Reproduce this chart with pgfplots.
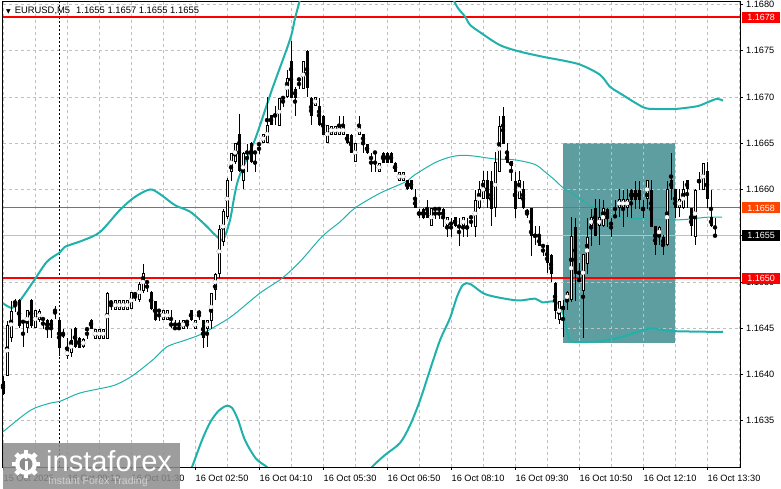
\documentclass[border=0pt]{standalone}
\usepackage{fontspec}
\setmainfont{Liberation Sans}
\newfontfamily\dejavu{DejaVu Sans}
\usepackage{pgfplots}
\pgfplotsset{compat=1.18}
\usepackage{pgfplotstable}

\definecolor{bb}{RGB}{32,178,170}
\definecolor{rectc}{RGB}{95,158,160}
\definecolor{ored}{RGB}{255,69,0}
\definecolor{gridc}{RGB}{192,192,192}

% x = bar position (chart pixels), o h l c = EURUSD M5 prices
\pgfplotstableread{
x o h l c
3 1.16395 1.16398 1.16378 1.16380
7 1.16400 1.16458 1.16398 1.16455
11 1.16440 1.16480 1.16436 1.16470
15 1.16478 1.16482 1.16468 1.16478
19 1.16480 1.16482 1.16450 1.16452
23 1.16458 1.16459 1.16430 1.16458
27 1.16450 1.16470 1.16445 1.16470
31 1.16480 1.16482 1.16450 1.16452
35 1.16450 1.16470 1.16450 1.16470
39 1.16460 1.16472 1.16458 1.16470
43 1.16460 1.16461 1.16450 1.16460
47 1.16460 1.16461 1.16440 1.16450
51 1.16460 1.16461 1.16440 1.16450
55 1.16470 1.16475 1.16460 1.16470
59 1.16460 1.16461 1.16420 1.16430
63 1.16445 1.16450 1.16440 1.16443
67 1.16420 1.16440 1.16418 1.16426
71 1.16425 1.16450 1.16420 1.16439
75 1.16450 1.16452 1.16430 1.16430
79 1.16440 1.16442 1.16430 1.16430
83 1.16430 1.16440 1.16430 1.16439
87 1.16450 1.16451 1.16440 1.16449
91 1.16460 1.16461 1.16450 1.16450
95 1.16439 1.16450 1.16439 1.16450
99 1.16439 1.16450 1.16439 1.16450
103 1.16439 1.16450 1.16439 1.16450
107 1.16439 1.16490 1.16439 1.16489
111 1.16478 1.16480 1.16470 1.16478
115 1.16470 1.16480 1.16470 1.16480
119 1.16470 1.16480 1.16470 1.16480
123 1.16470 1.16480 1.16470 1.16480
127 1.16470 1.16480 1.16470 1.16480
131 1.16470 1.16489 1.16470 1.16489
135 1.16489 1.16490 1.16480 1.16488
139 1.16480 1.16500 1.16478 1.16498
143 1.16490 1.16520 1.16489 1.16509
147 1.16500 1.16502 1.16490 1.16500
151 1.16489 1.16490 1.16470 1.16470
155 1.16480 1.16481 1.16459 1.16460
159 1.16470 1.16472 1.16459 1.16470
163 1.16459 1.16470 1.16459 1.16470
167 1.16459 1.16470 1.16459 1.16470
171 1.16455 1.16470 1.16450 1.16454
175 1.16452 1.16459 1.16450 1.16451
179 1.16452 1.16459 1.16450 1.16451
183 1.16450 1.16459 1.16450 1.16459
187 1.16458 1.16459 1.16450 1.16458
191 1.16470 1.16471 1.16459 1.16459
195 1.16450 1.16460 1.16450 1.16459
199 1.16468 1.16470 1.16459 1.16468
203 1.16459 1.16460 1.16430 1.16439
207 1.16450 1.16459 1.16430 1.16459
211 1.16459 1.16489 1.16450 1.16489
215 1.16492 1.16510 1.16480 1.16509
219 1.16510 1.16563 1.16505 1.16558
223 1.16545 1.16580 1.16540 1.16578
227 1.16570 1.16612 1.16568 1.16610
231 1.16620 1.16640 1.16610 1.16640
235 1.16630 1.16650 1.16628 1.16650
239 1.16660 1.16683 1.16620 1.16620
243 1.16610 1.16640 1.16600 1.16640
247 1.16640 1.16650 1.16620 1.16640
251 1.16650 1.16652 1.16630 1.16630
255 1.16640 1.16641 1.16620 1.16640
259 1.16650 1.16651 1.16640 1.16650
263 1.16650 1.16660 1.16650 1.16660
267 1.16650 1.16700 1.16650 1.16670
271 1.16680 1.16681 1.16670 1.16670
275 1.16680 1.16690 1.16670 1.16680
279 1.16670 1.16700 1.16670 1.16700
283 1.16700 1.16701 1.16690 1.16700
287 1.16700 1.16730 1.16700 1.16720
291 1.16740 1.16761 1.16700 1.16700
295 1.16710 1.16711 1.16680 1.16700
299 1.16720 1.16721 1.16710 1.16720
303 1.16710 1.16740 1.16710 1.16740
307 1.16750 1.16751 1.16700 1.16710
311 1.16700 1.16701 1.16670 1.16680
315 1.16690 1.16700 1.16690 1.16700
319 1.16690 1.16700 1.16670 1.16670
323 1.16680 1.16681 1.16660 1.16660
327 1.16650 1.16670 1.16650 1.16670
331 1.16660 1.16670 1.16660 1.16670
335 1.16660 1.16670 1.16660 1.16670
339 1.16660 1.16680 1.16660 1.16670
343 1.16660 1.16680 1.16660 1.16670
347 1.16660 1.16661 1.16650 1.16650
351 1.16660 1.16661 1.16640 1.16640
355 1.16630 1.16650 1.16630 1.16650
359 1.16660 1.16680 1.16660 1.16670
363 1.16660 1.16661 1.16640 1.16650
367 1.16650 1.16651 1.16640 1.16640
371 1.16635 1.16640 1.16620 1.16633
375 1.16640 1.16641 1.16620 1.16640
379 1.16620 1.16630 1.16620 1.16630
383 1.16640 1.16641 1.16630 1.16630
387 1.16640 1.16641 1.16630 1.16630
391 1.16640 1.16641 1.16630 1.16630
395 1.16630 1.16631 1.16620 1.16620
399 1.16610 1.16620 1.16610 1.16620
403 1.16610 1.16620 1.16610 1.16620
407 1.16610 1.16611 1.16600 1.16600
411 1.16610 1.16611 1.16600 1.16600
415 1.16590 1.16600 1.16580 1.16580
419 1.16576 1.16580 1.16570 1.16575
423 1.16580 1.16581 1.16570 1.16570
427 1.16580 1.16590 1.16570 1.16570
431 1.16560 1.16580 1.16560 1.16580
435 1.16580 1.16581 1.16570 1.16580
439 1.16580 1.16581 1.16570 1.16580
443 1.16580 1.16581 1.16560 1.16570
447 1.16560 1.16570 1.16550 1.16570
451 1.16565 1.16570 1.16550 1.16563
455 1.16570 1.16571 1.16560 1.16560
459 1.16562 1.16570 1.16540 1.16560
463 1.16560 1.16570 1.16550 1.16570
467 1.16560 1.16570 1.16550 1.16560
471 1.16570 1.16571 1.16560 1.16570
475 1.16560 1.16600 1.16550 1.16590
479 1.16580 1.16610 1.16580 1.16600
483 1.16590 1.16620 1.16590 1.16610
487 1.16610 1.16620 1.16580 1.16590
491 1.16610 1.16620 1.16560 1.16580
495 1.16580 1.16640 1.16570 1.16630
499 1.16620 1.16680 1.16620 1.16670
503 1.16680 1.16690 1.16650 1.16650
507 1.16640 1.16650 1.16630 1.16630
511 1.16630 1.16631 1.16610 1.16625
515 1.16610 1.16620 1.16570 1.16580
519 1.16590 1.16620 1.16590 1.16610
523 1.16600 1.16610 1.16580 1.16580
527 1.16578 1.16580 1.16570 1.16576
531 1.16580 1.16581 1.16530 1.16550
535 1.16550 1.16560 1.16540 1.16550
539 1.16550 1.16560 1.16540 1.16540
543 1.16540 1.16541 1.16530 1.16538
547 1.16540 1.16541 1.16510 1.16520
551 1.16530 1.16531 1.16500 1.16510
555 1.16500 1.16501 1.16460 1.16470
559 1.16460 1.16480 1.16455 1.16480
563 1.16475 1.16480 1.16440 1.16470
567 1.16480 1.16490 1.16470 1.16490
571 1.16480 1.16570 1.16478 1.16550
575 1.16560 1.16570 1.16480 1.16510
579 1.16505 1.16520 1.16500 1.16502
583 1.16490 1.16530 1.16440 1.16530
587 1.16520 1.16570 1.16510 1.16550
591 1.16560 1.16580 1.16540 1.16570
595 1.16580 1.16590 1.16550 1.16550
599 1.16560 1.16590 1.16540 1.16570
603 1.16560 1.16590 1.16560 1.16580
607 1.16580 1.16581 1.16560 1.16570
611 1.16565 1.16570 1.16550 1.16563
615 1.16572 1.16590 1.16570 1.16572
619 1.16580 1.16600 1.16570 1.16590
623 1.16580 1.16600 1.16560 1.16590
627 1.16580 1.16600 1.16570 1.16590
631 1.16600 1.16601 1.16570 1.16590
635 1.16600 1.16610 1.16580 1.16590
639 1.16600 1.16610 1.16580 1.16590
643 1.16580 1.16590 1.16570 1.16580
647 1.16590 1.16610 1.16580 1.16610
651 1.16600 1.16610 1.16560 1.16560
655 1.16560 1.16561 1.16530 1.16540
659 1.16550 1.16560 1.16540 1.16560
663 1.16550 1.16551 1.16530 1.16540
667 1.16540 1.16610 1.16540 1.16600
671 1.16610 1.16640 1.16590 1.16600
675 1.16600 1.16601 1.16570 1.16580
679 1.16580 1.16600 1.16570 1.16590
683 1.16580 1.16610 1.16580 1.16600
687 1.16610 1.16611 1.16580 1.16600
691 1.16580 1.16581 1.16550 1.16560
695 1.16550 1.16600 1.16540 1.16600
699 1.16610 1.16620 1.16600 1.16610
703 1.16600 1.16630 1.16600 1.16630
707 1.16620 1.16630 1.16580 1.16590
711 1.16570 1.16600 1.16560 1.16560
715 1.16550 1.16570 1.16550 1.16550
}\candles

\tikzset{pricebox/.style={anchor=west, inner sep=0pt, minimum width=38pt, minimum height=11pt,
  text=white, font=\fontsize{9}{10}\selectfont}}

\begin{document}
\begin{tikzpicture}[x=1pt,y=1pt]
\begin{axis}[set layers,
  at={(2.7pt,22pt)}, anchor=south west, scale only axis,
  width=737.3pt, height=465.3pt,
  xmin=2.7, xmax=740, ymin=1.163, ymax=1.16803,
  axis line style={black, line width=0.9pt},
  tick style={black, line width=0.8pt},
  tick align=outside, major tick length=3pt, minor tick length=0pt,
  xtick pos=left, ytick pos=right, yticklabel pos=right,
  xtick={3,67,131,195,259,323,387,451,515,579,643,707},
  minor xtick={35,99,163,227,291,355,419,483,547,611,675,739},
  xticklabels={15 Oct 2025,16 Oct 00:10,16 Oct 01:30,16 Oct 02:50,16 Oct 04:10,16 Oct 05:30,
    16 Oct 06:50,16 Oct 08:10,16 Oct 09:30,16 Oct 10:50,16 Oct 12:10,16 Oct 13:30},
  xticklabel style={font=\fontsize{9.2}{10}\selectfont, anchor=north west, inner sep=0pt, yshift=-4.5pt, xshift=0.5pt},
  ytick={1.1635,1.164,1.1645,1.165,1.1655,1.166,1.1665,1.167,1.1675,1.168},
  yticklabel style={font=\fontsize{9.2}{10}\selectfont, anchor=west, inner sep=0pt, xshift=3pt,
    /pgf/number format/.cd, fixed, fixed zerofill, precision=4, assume math mode=true},
  scaled y ticks=false,
  grid=both,
  major grid style={gridc, dash pattern=on 3pt off 3pt, line width=0.8pt},
  minor grid style={gridc, dash pattern=on 3pt off 3pt, line width=0.8pt},
]
\begin{pgfonlayer}{axis background}
\fill[rectc] (axis cs:563,1.16434) rectangle (axis cs:675,1.1665);
\end{pgfonlayer}

% day separator
\draw[black, dash pattern=on 2pt off 2pt, line width=0.8pt] (axis cs:59.5,1.163) -- (axis cs:59.5,1.16803);

% bid line and levels
\addplot[gridc, line width=0.8pt] coordinates {(2.7,1.1655) (740,1.1655)};
\addplot[ored, line width=1pt] coordinates {(2.7,1.1658) (740,1.1658)};
\addplot[red, line width=2pt] coordinates {(2.7,1.16786) (740,1.16786)};
\addplot[red, line width=2pt] coordinates {(2.7,1.16504) (740,1.16504)};

% Bollinger bands
\addplot[bb, line width=2pt, smooth] coordinates {(3,1.16477) (12,1.16472) (20,1.16480) (33,1.16500) (47,1.16522) (60,1.16532) (65,1.16538) (83,1.16545) (100,1.16554) (120,1.16578) (135,1.16592) (150,1.16600) (160,1.16595) (175,1.16583) (190,1.16576) (205,1.16562) (215,1.16551) (223,1.16546) (230,1.16567) (238,1.16610) (255,1.16654) (272,1.16708) (290,1.16762) (295,1.16785) (300,1.16805)};
\addplot[bb, line width=2pt, smooth] coordinates {(452,1.16808) (458,1.16796) (465,1.16787) (470,1.16778) (480,1.16770) (500,1.16756) (520,1.16749) (545,1.16743) (560,1.16740) (580,1.16735) (600,1.16724) (610,1.16711) (620,1.16704) (643,1.16689) (655,1.16687) (675,1.16687) (697,1.16690) (707,1.16694) (717,1.16698) (723,1.16696)};
\addplot[bb, line width=1pt, smooth] coordinates {(3,1.16338) (30,1.16361) (50,1.16369) (60,1.16371) (80,1.16380) (110,1.16387) (120,1.16391) (133,1.16399) (153,1.16416) (167,1.16430) (185,1.16437) (200,1.16443) (217,1.16453) (233,1.16464) (260,1.16488) (282,1.16504) (300,1.16522) (322,1.16549) (340,1.16565) (355,1.16580) (380,1.16596) (405,1.16608) (415,1.16616) (435,1.16629) (450,1.16635) (462,1.16637) (475,1.16636) (495,1.16633) (515,1.16632) (535,1.16627) (545,1.16619) (555,1.16610) (563,1.16602) (575,1.16594) (590,1.16583) (607,1.16576) (623,1.16570) (647,1.16568) (673,1.16567) (690,1.16568) (707,1.16570) (722,1.16570)};
\addplot[bb, line width=2pt, smooth] coordinates {(188,1.16292) (192,1.16300) (202,1.16329) (210,1.16348) (218,1.16360) (226,1.16366) (232,1.16364) (238,1.16351) (245,1.16329) (256,1.16309) (267,1.16300) (271,1.16294)};
\addplot[bb, line width=2pt, smooth] coordinates {(368,1.16292) (372,1.16300) (385,1.16313) (400,1.16326) (410,1.16345) (420,1.16372) (430,1.16405) (440,1.16437) (450,1.16461) (457,1.16484) (463,1.16497) (470,1.16498) (483,1.16488) (495,1.16484) (518,1.16480) (535,1.16482) (542,1.16478) (552,1.16479) (558,1.16477) (562,1.16470) (566,1.16453) (570,1.16437) (580,1.16435) (600,1.16436) (620,1.16440) (643,1.16448) (653,1.16450) (670,1.16447) (723,1.16446)};

% candles: wicks
\addplot[black, only marks, mark=none, error bars/.cd, y dir=both, y explicit, error mark=none,
  error bar style={line width=1pt, black}]
  table[x=x, y expr={(\thisrow{h}+\thisrow{l})/2}, y error expr={(\thisrow{h}-\thisrow{l})/2}] {\candles};
% bear bodies
\addplot[black, only marks, mark=none, error bars/.cd, y dir=both, y explicit, error mark=none,
  error bar style={line width=3pt, black}]
  table[x=x, y expr={(\thisrow{c}<\thisrow{o}) ? ((\thisrow{o}+\thisrow{c})/2) : nan},
    y error expr={max((\thisrow{o}-\thisrow{c})/2,0.000005)}] {\candles};
% bull bodies: outline then white inside
\addplot[black, only marks, mark=none, error bars/.cd, y dir=both, y explicit, error mark=none,
  error bar style={line width=3pt, black}]
  table[x=x, y expr={(\thisrow{c}>=\thisrow{o}) ? ((\thisrow{o}+\thisrow{c})/2) : nan},
    y error expr={max((\thisrow{c}-\thisrow{o})/2,0.000005)}] {\candles};
\addplot[white, only marks, mark=none, error bars/.cd, y dir=both, y explicit, error mark=none,
  error bar style={line width=1pt, white}]
  table[x=x, y expr={(\thisrow{c}-\thisrow{o}>0.000022) ? ((\thisrow{o}+\thisrow{c})/2) : nan},
    y error expr={(\thisrow{c}-\thisrow{o})/2-0.0000108}] {\candles};

\coordinate (p1678) at (axis cs:740,1.16786);
\coordinate (p1658) at (axis cs:740,1.1658);
\coordinate (p1655) at (axis cs:740,1.1655);
\coordinate (p1650) at (axis cs:740,1.16504);
\end{axis}

% price boxes on the right scale
\node[pricebox, fill=red, xshift=2pt] at (p1678) {1.1678};
\node[pricebox, fill=ored, xshift=2pt] at (p1658) {1.1658};
\node[pricebox, fill=black, xshift=2pt] at (p1655) {1.1655};
\node[pricebox, fill=red, xshift=2pt] at (p1650) {1.1650};

% header
\node[anchor=west, inner sep=0pt, font=\fontsize{9.4}{10}\selectfont] at (6,478.5)
  {{\dejavu\fontsize{6}{6}\selectfont ▼}\hspace{4pt}EURUSD,M5\hspace{6pt}1.1655 1.1657 1.1655 1.1655};

% watermark
\fill[black!45, opacity=0.85] (3,0) rectangle (180,46);
\begin{scope}[white]
\fill (26,25) circle (11);
\foreach \a in {0,45,...,315}
  \fill[rotate around={\a:(26,25)}] (23.6,25) rectangle (28.4,39);
\fill[black!45] (26,25) circle (6.5);
\fill (24.5,19) rectangle (27.5,28);
\fill (26,31) circle (1.7);
\end{scope}
\node[anchor=base west, inner sep=0pt, text=white, font=\fontsize{29}{30}\selectfont] at (46,17.3) {instaforex};
\node[anchor=base west, inner sep=0pt, text=black!18, font=\fontsize{10.5}{12}\selectfont] at (48,4) {Instant Forex Trading};

\pgfresetboundingbox
\path[use as bounding box] (0,0) rectangle (781,489);
\end{tikzpicture}
\end{document}
